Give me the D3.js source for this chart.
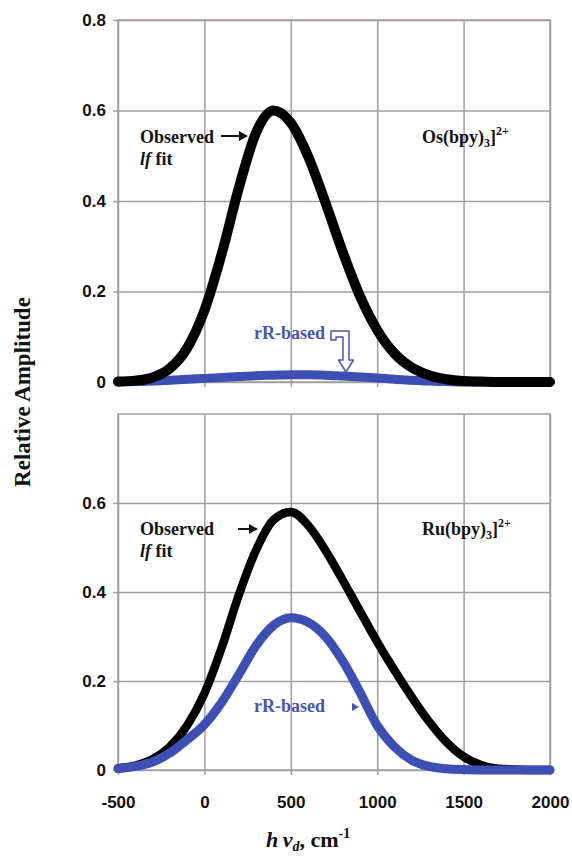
<!DOCTYPE html>
<html>
<head>
<meta charset="utf-8">
<script src="https://cdn.jsdelivr.net/npm/d3@7"></script>
<style>
  body { margin: 0; background: #fff; }
  .tick text { font-family: "Liberation Sans", Arial, sans-serif; font-weight: bold; font-size: 17px; fill: #111; }
  .ann { font-family: "Liberation Serif", "Times New Roman", serif; font-weight: bold; }
</style>
</head>
<body>
<div id="viz"></div>
<script>
"use strict";

const w = 572;
const h = 857;

// energy axis, cm-1
const energy = [-500, -400, -300, -200, -100, 0, 100, 200, 300, 400, 500, 600, 700,
  800, 900, 1000, 1100, 1200, 1300, 1400, 1500, 1600, 1700, 1800, 1900, 2000];

// Os(bpy)3 2+
const osObserved = [0.001, 0.003, 0.010, 0.030, 0.075, 0.158, 0.283, 0.430, 0.552, 0.600, 0.573, 0.499, 0.397,
  0.288, 0.190, 0.115, 0.063, 0.032, 0.015, 0.006, 0.002, 0.001, 0, 0, 0, 0];
const osRR = [0, 0.001, 0.002, 0.004, 0.006, 0.008, 0.010, 0.012, 0.014, 0.015, 0.016, 0.016, 0.015,
  0.013, 0.011, 0.009, 0.006, 0.004, 0.002, 0.001, 0, 0, 0, 0, 0, 0];

// Ru(bpy)3 2+
const ruObserved = [0.004, 0.010, 0.024, 0.052, 0.100, 0.172, 0.275, 0.394, 0.495, 0.562, 0.580, 0.550, 0.494,
  0.427, 0.357, 0.288, 0.224, 0.164, 0.109, 0.063, 0.030, 0.011, 0.003, 0.001, 0, 0];
const ruRR = [0.003, 0.008, 0.018, 0.038, 0.068, 0.102, 0.152, 0.215, 0.280, 0.325, 0.342, 0.332, 0.300,
  0.245, 0.175, 0.100, 0.052, 0.022, 0.008, 0.003, 0.001, 0, 0, 0, 0, 0];

const xTicks = [-500, 0, 500, 1000, 1500, 2000];
const yTicksTop = [0, 0.2, 0.4, 0.6, 0.8];
const yTicksBottom = [0, 0.2, 0.4, 0.6];

const black = "#000";
const blue = "#3d4fb3";
const gridColor = "#a59c9c";

const svg = d3.select("#viz")
  .append("svg")
  .attr("width", w)
  .attr("height", h)

const x = d3.scaleLinear().domain([-500, 2000]).range([118, 550]);

const fmt = d => d === 0 ? "0" : d3.format(".1f")(d);

function drawPanel(top, bottom, yTicks, series, showX) {
  const y = d3.scaleLinear().domain([0, 0.8]).range([bottom, top]);
  const g = svg.append("g");
  const left = x.range()[0], right = x.range()[1];

  // horizontal grid + y labels
  const ya = g.append("g")
    .attr("transform", `translate(${left},0)`)
    .call(d3.axisLeft(y).tickValues(yTicks).tickFormat(fmt).tickSize(-(right - left)).tickPadding(12));
  ya.select(".domain").remove();
  ya.selectAll("line").attr("x1", -5).attr("stroke", gridColor).attr("stroke-width", 1.5);

  // vertical grid
  const xa = g.append("g")
    .attr("transform", `translate(0,${bottom})`)
    .call(d3.axisBottom(x).tickValues(xTicks).tickSize(-(bottom - top)).tickFormat(showX ? d => d : ""));
  xa.select(".domain").remove();
  xa.selectAll("line").attr("y1", 5).attr("stroke", gridColor).attr("stroke-width", 1.5);
  xa.selectAll("text").attr("y", 38).attr("dy", 0);

  g.append("rect")
    .attr("x", left).attr("y", top)
    .attr("width", right - left).attr("height", bottom - top)
    .attr("fill", "none").attr("stroke", gridColor).attr("stroke-width", 1.5);

  const line = d3.line()
    .x((d, i) => x(energy[i]))
    .y(d => y(d))
    .curve(d3.curveMonotoneX);

  series.forEach(s => {
    g.append("path")
      .datum(s.values)
      .attr("d", line)
      .attr("fill", "none")
      .attr("stroke", s.color)
      .attr("stroke-width", s.width)
      .attr("stroke-linecap", "round")
      .attr("stroke-linejoin", "round");
  });
  return { g, y };
}

drawPanel(20, 382, yTicksTop, [
  { values: osRR, color: blue, width: 9 },
  { values: osObserved, color: black, width: 10 }
], false);

drawPanel(414, 770, yTicksBottom, [
  { values: ruObserved, color: black, width: 8.5 },
  { values: ruRR, color: blue, width: 9 }
], true);

// annotations
function observedLabel(baseY, arrowX1, arrowX2, arrowY) {
  svg.append("text").attr("class", "ann").attr("font-size", 18).attr("fill", "#111")
    .attr("x", 140).attr("y", baseY).text("Observed");
  const t2 = svg.append("text").attr("class", "ann").attr("font-size", 18).attr("fill", "#111")
    .attr("x", 140).attr("y", baseY + 22);
  t2.append("tspan").attr("font-style", "italic").text("lf");
  t2.append("tspan").text(" fit");

  svg.append("line")
    .attr("x1", arrowX1).attr("x2", arrowX2 - 6)
    .attr("y1", arrowY).attr("y2", arrowY)
    .attr("stroke", "#111").attr("stroke-width", 2);
  svg.append("path")
    .attr("d", `M${arrowX2},${arrowY} L${arrowX2 - 9},${arrowY - 5} L${arrowX2 - 9},${arrowY + 5} Z`)
    .attr("fill", "#111");
}
observedLabel(143, 221, 248, 136);
observedLabel(535, 238, 258, 529);

function complexLabel(name, xPos, baseY) {
  const t = svg.append("text").attr("class", "ann").attr("font-size", 18).attr("fill", "#111")
    .attr("x", xPos).attr("y", baseY);
  t.append("tspan").text(name + "(bpy)");
  t.append("tspan").attr("font-size", 12).attr("dy", 4).text("3");
  t.append("tspan").attr("dy", -4).text("]");
  t.append("tspan").attr("font-size", 12).attr("dy", -8).text("2+");
}
complexLabel("Os", 422, 143);
complexLabel("Ru", 422, 535);

function rrLabel(baseY) {
  svg.append("text").attr("class", "ann").attr("font-size", 18).attr("fill", "#4a54a8")
    .attr("x", 254).attr("y", baseY).text("rR-based");
}
rrLabel(339);
rrLabel(712);

// hollow bent arrow (top panel)
svg.append("path")
  .attr("d", "M331,340 L331,331 L349,331 L349,360 L353.5,360 L346,372 L338.5,360 L343,360 L343,337 L336,337 L336,340 Z")
  .attr("fill", "#fff").attr("stroke", "#4a54a8").attr("stroke-width", 1.5).attr("stroke-linejoin", "round");

// small pointer (bottom panel)
svg.append("path")
  .attr("d", "M352,703 L359,707 L352,711 Z")
  .attr("fill", "#4a54a8");

// axis titles
svg.append("text")
  .attr("class", "ann")
  .attr("font-size", 23)
  .attr("fill", "#111")
  .attr("text-anchor", "middle")
  .attr("transform", "translate(30,392) rotate(-90)")
  .text("Relative Amplitude");

const xt = svg.append("text").attr("class", "ann").attr("font-size", 22).attr("fill", "#111")
  .attr("x", 266).attr("y", 847);
xt.append("tspan").attr("font-style", "italic").text("h\u2009\u03BD");
xt.append("tspan").attr("font-style", "italic").attr("font-size", 14).attr("dy", 4).text("d");
xt.append("tspan").attr("dy", -4).text(", cm");
xt.append("tspan").attr("font-size", 14).attr("dy", -9).text("-1");
</script>
</body>
</html>
